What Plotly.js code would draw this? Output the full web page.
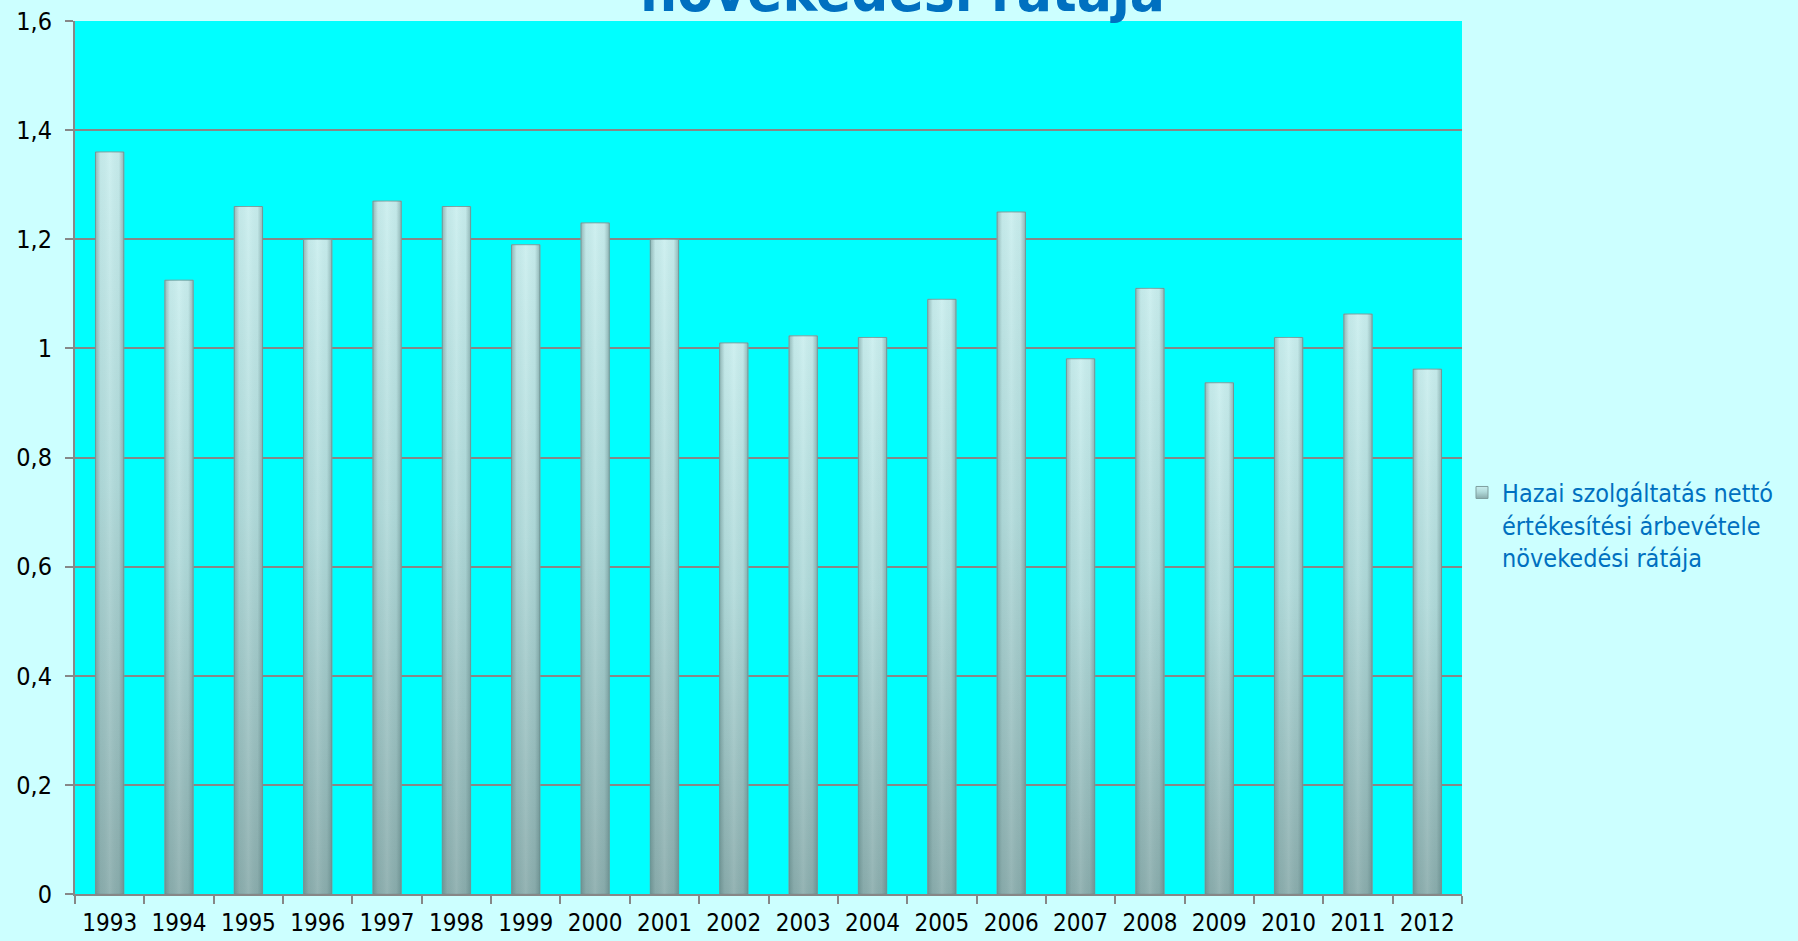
<!DOCTYPE html>
<html>
<head>
<meta charset="utf-8">
<script src="https://cdn.plot.ly/plotly-3.0.1.min.js"></script>
<style>
  html, body { margin: 0; padding: 0; background: #ccffff; }
  #chart { width: 1798px; height: 941px; }
</style>
</head>
<body>
<div id="chart"></div>
<script>
var years = ["1993","1994","1995","1996","1997","1998","1999","2000","2001","2002",
             "2003","2004","2005","2006","2007","2008","2009","2010","2011","2012"];
var growthRate = [1.36, 1.125, 1.26, 1.2, 1.27, 1.26, 1.19, 1.23, 1.2, 1.01,
                  1.023, 1.02, 1.09, 1.25, 0.981, 1.11, 0.937, 1.02, 1.063, 0.962];
var seriesName = "Hazai szolgáltatás nettó<br>értékesítési árbevétele<br>növekedési rátája";
var titleText = "növekedési rátája";

var FONT = "'DejaVu Sans Condensed', Lato, 'DejaVu Sans', sans-serif";
var GRID = "#878787";

var trace = {
  type: "bar",
  x: years,
  y: growthRate,
  name: seriesName,
  showlegend: true,
  marker: { color: "#a9d3d3", line: { color: "#7f9f9f", width: 1 } },
  hoverinfo: "skip"
};

var layout = {
  width: 1798,
  height: 941,
  paper_bgcolor: "#ccffff",
  plot_bgcolor: "#00ffff",
  separators: ", ",
  margin: { l: 75, r: 336, t: 21, b: 47, pad: 0 },
  font: { family: FONT, size: 24, color: "#000000" },
  bargap: 0.59,
  title: {
    text: titleText,
    font: { family: FONT, size: 58, color: "#0070c0", weight: "bold" },
    xref: "container", x: 0.502, xanchor: "center",
    yref: "paper", y: 1, yanchor: "bottom",
    pad: { b: 10, t: 0, l: 0, r: 0 }
  },
  xaxis: {
    type: "category",
    tickson: "boundaries",
    ticks: "outside",
    ticklen: 8,
    tickwidth: 2,
    tickcolor: GRID,
    showline: true,
    linecolor: GRID,
    linewidth: 2,
    showgrid: false,
    ticklabelstandoff: 6,
    tickfont: { family: FONT, size: 24, color: "#000000" },
    fixedrange: true
  },
  yaxis: {
    range: [0, 1.6],
    dtick: 0.2,
    tick0: 0,
    ticks: "outside",
    ticklen: 8,
    tickwidth: 2,
    tickcolor: GRID,
    showline: true,
    linecolor: GRID,
    linewidth: 2,
    showgrid: true,
    gridcolor: GRID,
    gridwidth: 2,
    zeroline: false,
    ticklabelstandoff: 8,
    tickfont: { family: FONT, size: 25, color: "#000000" },
    fixedrange: true
  },
  showlegend: true,
  legend: {
    x: 1.0, xanchor: "left",
    y: 0.486, yanchor: "top",
    valign: "top",
    bgcolor: "rgba(0,0,0,0)",
    font: { family: FONT, size: 25, color: "#0070c0" },
    itemwidth: 30
  }
};

Plotly.newPlot("chart", [trace], layout, { displayModeBar: false, staticPlot: true }).then(function (gd) {
  var ns = "http://www.w3.org/2000/svg";
  var svg = gd.querySelector(".main-svg");
  var defs = svg.querySelector("defs") || svg.insertBefore(document.createElementNS(ns, "defs"), svg.firstChild);

  function makeGrad(id, x2, y2, stops) {
    var g = document.createElementNS(ns, "linearGradient");
    g.setAttribute("id", id);
    g.setAttribute("x1", "0"); g.setAttribute("y1", "0");
    g.setAttribute("x2", x2); g.setAttribute("y2", y2);
    stops.forEach(function (s) {
      var st = document.createElementNS(ns, "stop");
      st.setAttribute("offset", s[0]);
      st.setAttribute("stop-color", s[1]);
      st.setAttribute("stop-opacity", s[2]);
      g.appendChild(st);
    });
    defs.appendChild(g);
  }
  makeGrad("barVert", "0", "1", [[0, "#c9eeee", 1], [0.45, "#b0dada", 1], [1, "#8aacac", 1]]);
  makeGrad("barEdge", "1", "0", [[0, "#4f7474", 0.45], [0.18, "#4f7474", 0.05], [0.5, "#ffffff", 0.1],
                                 [0.82, "#4f7474", 0.05], [1, "#4f7474", 0.45]]);

  var paths = gd.querySelectorAll(".barlayer .point path");
  paths.forEach(function (p) {
    p.style.fill = "url(#barVert)";
    var c = p.cloneNode(false);
    c.style.fill = "url(#barEdge)";
    c.style.stroke = "none";
    p.parentNode.appendChild(c);
  });
  gd.querySelectorAll(".legend .legendpoints path").forEach(function (p) {
    p.style.fill = "url(#barVert)";
  });
});
</script>
</body>
</html>
